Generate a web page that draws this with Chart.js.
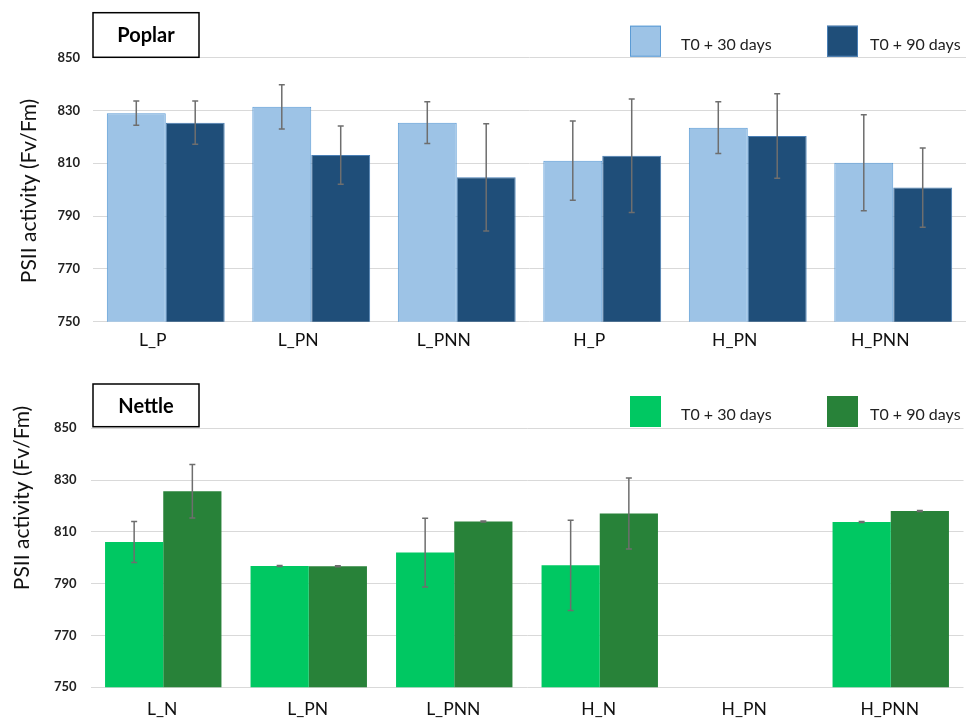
<!DOCTYPE html>
<html lang="en">
<head>
    <meta charset="UTF-8">
    <script src="https://cdn.jsdelivr.net/npm/chart.js"></script>
    <title>PSII activity</title>
    <style>
        body { margin:0; background:#fff; }
        .panel { position:absolute; left:0; width:966px; height:361px; }
    </style>
    <script>
        // 값은 그림에서 읽은 추정치
        const poplarCats = ['L_P','L_PN','L_PNN','H_P','H_PN','H_PNN'];
        const poplar30 = [829, 831.4, 825.4, 811, 823.5, 810.2];
        const poplar30Err = [4.6, 8.4, 7.9, 15, 9.8, 18.2];
        const poplar90 = [825.4, 813.1, 804.7, 812.9, 820.3, 800.8];
        const poplar90Err = [8.2, 11, 20.3, 21.5, 16, 15];

        const nettleCats = ['L_N','L_PN','L_PNN','H_N','H_PN','H_PNN'];
        const nettle30 = [806.1, 796.8, 802, 797.1, null, 813.8];
        const nettle30Err = [7.9, 0.2, 13.3, 17.4, null, 0.2];
        const nettle90 = [825.7, 796.7, 814, 817.1, null, 818.1];
        const nettle90Err = [10.3, 0.2, 0.2, 13.7, null, 0.2];

        const yMin = 750, yMax = 850, yStep = 20;
        const seriesLabels = ['T0 + 30 days', 'T0 + 90 days'];
        const yTitle = 'PSII activity (Fv/Fm)';

        const FONT = 'Lato, "Open Sans", sans-serif';

        // 에러바 + 제목박스 + 범례 + y축 제목
        const decor = {
            id: 'decor',
            afterDatasetsDraw(chart, args, opt) {
                const ctx = chart.ctx;
                const y = chart.scales.y;
                ctx.save();
                ctx.strokeStyle = '#6e6e6e';
                ctx.lineWidth = 1.5;
                chart.data.datasets.forEach((ds, di) => {
                    const meta = chart.getDatasetMeta(di);
                    meta.data.forEach((el, i) => {
                        const v = ds.data[i], e = ds.errors[i];
                        if (v == null || e == null) return;
                        const yt = y.getPixelForValue(v + e);
                        const yb = y.getPixelForValue(v - e);
                        ctx.beginPath();
                        ctx.moveTo(el.x, yt); ctx.lineTo(el.x, yb);
                        ctx.moveTo(el.x - 3, yt); ctx.lineTo(el.x + 3, yt);
                        ctx.moveTo(el.x - 3, yb); ctx.lineTo(el.x + 3, yb);
                        ctx.stroke();
                    });
                });
                ctx.restore();
            },
            afterDraw(chart, args, opt) {
                const ctx = chart.ctx;
                ctx.save();
                // 제목 박스
                const b = opt.box;
                ctx.strokeStyle = '#000';
                ctx.lineWidth = 1.5;
                ctx.strokeRect(b.x, b.y, b.w, b.h);
                ctx.fillStyle = '#000';
                ctx.font = 'bold 20px ' + FONT;
                ctx.textAlign = 'center';
                ctx.textBaseline = 'middle';
                ctx.fillText(opt.title, b.x + b.w / 2, b.y + b.h / 2 + 1);
                // y축 제목
                ctx.save();
                ctx.translate(opt.yTitleX, opt.yTitleY);
                ctx.rotate(-Math.PI / 2);
                ctx.font = '21px ' + FONT;
                ctx.fillStyle = '#111';
                ctx.fillText(yTitle, 0, 0);
                ctx.restore();
                // 범례
                ctx.font = '16px ' + FONT;
                ctx.textAlign = 'left';
                chart.data.datasets.forEach((ds, di) => {
                    const lx = opt.legendX[di];
                    ctx.fillStyle = ds.backgroundColor;
                    ctx.fillRect(lx, opt.legendY, 31, 31);
                    if (ds.borderWidth) {
                        ctx.strokeStyle = ds.borderColor;
                        ctx.lineWidth = 1;
                        ctx.strokeRect(lx + 0.5, opt.legendY + 0.5, 30, 30);
                    }
                    ctx.fillStyle = '#222';
                    ctx.fillText(ds.label, lx + 31 + opt.legendGap[di], opt.legendY + 19);
                });
                ctx.restore();
            }
        };

        function makeChart(id, cats, d30, e30, d90, e90, style) {
            return new Chart(document.getElementById(id), {
                type: 'bar',
                data: {
                    labels: cats,
                    datasets: [
                        { label: seriesLabels[0], data: d30, errors: e30,
                          backgroundColor: style.c30, borderColor: style.b30, borderWidth: style.bw,
                          borderSkipped: 'bottom' },
                        { label: seriesLabels[1], data: d90, errors: e90,
                          backgroundColor: style.c90, borderColor: style.b90, borderWidth: style.bw,
                          borderSkipped: 'bottom' }
                    ]
                },
                options: {
                    responsive: false,
                    animation: false,
                    layout: { padding: { top: style.padTop, right: style.padRight, left: 0, bottom: 0 } },
                    datasets: { bar: { categoryPercentage: style.catPct, barPercentage: 1.0 } },
                    plugins: {
                        legend: { display: false },
                        tooltip: { enabled: false },
                        decor: style.decor
                    },
                    scales: {
                        x: {
                            grid: { display: false, drawTicks: false },
                            border: { display: false },
                            ticks: { color: '#111', font: { family: FONT, size: 17.5 },
                                     padding: style.xPad, labelOffset: style.labelOffset },
                            afterFit: a => { a.height = style.xHeight; }
                        },
                        y: {
                            min: yMin, max: yMax,
                            grid: { color: '#d9d9d9', lineWidth: 1, drawTicks: false },
                            border: { display: false },
                            ticks: { stepSize: yStep, color: '#222', padding: style.yPad,
                                     font: { family: FONT, size: 13, weight: 'bold' } },
                            afterFit: a => { a.width = style.yWidth; }
                        }
                    }
                },
                plugins: [decor]
            });
        }

        window.addEventListener('load', function () {
            makeChart('poplarChart', poplarCats, poplar30, poplar30Err, poplar90, poplar90Err, {
                c30: '#9dc3e6', b30: '#5b9bd5', c90: '#1f4e79', b90: '#4a7fb5', bw: 1,
                padTop: 57.7, padRight: 0, catPct: 0.81, xPad: 8, xHeight: 39.3,
                labelOffset: -13, yPad: 13, yWidth: 93,
                decor: { title: 'Poplar', box: { x: 93, y: 12.7, w: 106, h: 44.6 },
                         yTitleX: 29, yTitleY: 191,
                         legendX: [630, 827], legendGap: [20, 12], legendY: 25.7 }
            });
            makeChart('nettleChart', nettleCats, nettle30, nettle30Err, nettle90, nettle90Err, {
                c30: '#00c862', b30: '#00c862', c90: '#288239', b90: '#288239', bw: 0,
                padTop: 67.3, padRight: 2.5, catPct: 0.80, xPad: 12, xHeight: 34.7,
                labelOffset: -1, yPad: 14, yWidth: 90.5,
                decor: { title: 'Nettle', box: { x: 93, y: 23, w: 106, h: 42.7 },
                         yTitleX: 22, yTitleY: 137,
                         legendX: [630, 827], legendGap: [20, 12], legendY: 35 }
            });
        });
    </script>
</head>
<body>
    <div class="panel" style="top:0;"><canvas id="poplarChart" width="966" height="361"></canvas></div>
    <div class="panel" style="top:361px;"><canvas id="nettleChart" width="966" height="361"></canvas></div>
</body>
</html>
